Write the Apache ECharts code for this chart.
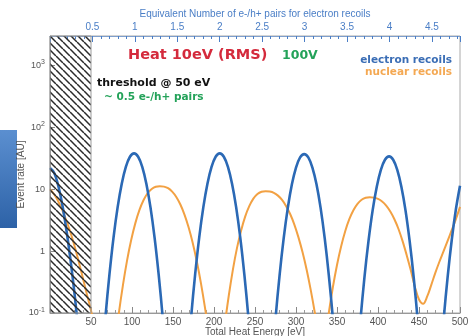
<!DOCTYPE html>
<html><head><meta charset="utf-8">
<script src="https://cdn.jsdelivr.net/npm/echarts@6/dist/echarts.min.js"></script>
<style>html,body{margin:0;padding:0;background:#fff}#c{width:470px;height:336px}</style>
</head><body><div id="c"></div>
<script>
// ---- data: [energy eV, event rate AU] ----
const electronPeak0 = [[0,22],[5,18.5],[10,11.5],[15,5.6],[20,2.2],[25,0.72],[30,0.2],[35,0.045],[40,0.008]];
const electronPeak1 = [[62.5,0.013],[67.5,0.083],[72.5,0.42],[77.5,1.67],[82.5,5.14],[87.5,12.3],[92.5,23.0],[97.5,33.5],[102.5,38],[107.5,33.5],[112.5,23.0],[117.5,12.3],[122.5,5.14],[127.5,1.67],[132.5,0.42],[137.5,0.083],[142.5,0.013]];
const electronPeak2 = [[167,0.013],[172,0.083],[177,0.42],[182,1.67],[187,5.14],[192,12.3],[197,23.0],[202,33.5],[207,38],[212,33.5],[217,23.0],[222,12.3],[227,5.14],[232,1.67],[237,0.42],[242,0.083],[247,0.013]];
const electronPeak3 = [[270,0.012],[275,0.081],[280,0.41],[285,1.62],[290,5.0],[295,12.0],[300,22.4],[305,32.7],[310,37],[315,32.7],[320,22.4],[325,12.0],[330,5.0],[335,1.62],[340,0.41],[345,0.081],[350,0.012]];
const electronPeak4 = [[373.5,0.011],[378.5,0.074],[383.5,0.38],[388.5,1.49],[393.5,4.6],[398.5,11.0],[403.5,20.6],[408.5,30.0],[413.5,34],[418.5,30.0],[423.5,20.6],[428.5,11.0],[433.5,4.6],[438.5,1.49],[443.5,0.38],[448.5,0.074],[453.5,0.011]];
const electronPeak5 = [[475,0.012],[480,0.077],[485,0.39],[490,1.54],[495,4.74],[500,11.4]];

const nuclearPeak0 = [[0,10],[5,8.3],[10,6.4],[15,4.6],[20,3.1],[25,2.0],[30,1.2],[35,0.68],[40,0.37],[45,0.2],[50,0.11],[55,0.05],[60,0.02]];
const nuclearPeak1 = [[74,0.0074],[79,0.029],[84,0.1],[89,0.285],[94,0.708],[99,1.51],[104,2.81],[109,4.59],[114,6.63],[119,8.62],[124,10.1],[129,11.0],[134,11.2],[139,11.04],[144,10.4],[149,9.16],[154,7.52],[159,5.68],[164,3.89],[169,2.43],[174,1.37],[179,0.686],[184,0.307],[189,0.122],[194,0.043],[199,0.013]];
const nuclearPeak2 = [[208,0.0173],[213,0.0625],[218,0.19],[223,0.499],[228,1.12],[233,2.14],[238,3.61],[243,5.33],[248,7.05],[253,8.36],[258,9.11],[263,9.3],[268,9.19],[273,8.74],[278,7.89],[283,6.73],[288,5.33],[293,3.95],[298,2.69],[303,1.67],[308,0.96],[313,0.50],[318,0.234],[323,0.1],[328,0.038],[333,0.013]];
const nuclearPeak3 = [[330,0.0093],[335,0.033],[340,0.1],[345,0.263],[350,0.597],[355,1.19],[360,2.10],[365,3.28],[370,4.59],[375,5.82],[380,6.76],[385,7.27],[390,7.4],[395,7.32],[400,6.98],[405,6.34],[410,5.44],[415,4.37],[420,3.28],[425,2.28],[430,1.45],[435,0.86],[440,0.49],[445,0.264],[450,0.165],[455,0.141],[460,0.185],[465,0.285],[470,0.45],[475,0.68],[480,1.0],[485,1.48],[490,2.2],[495,3.3],[500,5.2]];

const electronSegments = [electronPeak0, electronPeak1, electronPeak2, electronPeak3, electronPeak4, electronPeak5];
const nuclearSegments = [nuclearPeak0, nuclearPeak1, nuclearPeak2, nuclearPeak3];

const energyTicks = [50,100,150,200,250,300,350,400,450,500];
const pairTicks = [0.5,1,1.5,2,2.5,3,3.5,4,4.5];
const rateTicks = [0.1,1,10,100,1000];
const thresholdEnergy = 50;
const eVPerPair = 103.5;
const energyMax = 500;
const rateMin = 0.1, rateMax = 3000;

// ---- styling ----
const BLUE = '#2b69b5', ORANGE = '#f2a143';
const AXIS_BLUE = '#4a7ec6';

function hatchPattern(){
  const s = 7, c = document.createElement('canvas');
  c.width = s; c.height = s;
  const g = c.getContext('2d');
  g.strokeStyle = '#2a2a2a'; g.lineWidth = 1.5;
  for (let k = -1; k <= 1; k++) { g.beginPath(); g.moveTo(k*s, 0); g.lineTo(k*s + s, s); g.stroke(); }
  return {image: c, repeat: 'repeat'};
}

const chart = echarts.init(document.getElementById('c'), null, {renderer: 'canvas'});

const series = [];
electronSegments.forEach(seg => series.push({
  name: 'electron recoils', type: 'line', data: seg, showSymbol: false, smooth: 0.35,
  clip: true, z: 3, lineStyle: {color: BLUE, width: 2.6}, itemStyle: {color: BLUE}
}));
nuclearSegments.forEach(seg => series.push({
  name: 'nuclear recoils', type: 'line', data: seg, showSymbol: false, smooth: 0.35,
  clip: true, z: 2, lineStyle: {color: ORANGE, width: 2}, itemStyle: {color: ORANGE}
}));
series.push({
  name: 'threshold', type: 'line', data: [], z: 10, silent: true,
  markArea: {silent: true, z: 10,
    itemStyle: {color: hatchPattern(), borderColor: '#999', borderWidth: 1},
    data: [[{xAxis: 0}, {xAxis: thresholdEnergy}]]}
});

const isPow10 = v => Math.abs(Math.log10(v) - Math.round(Math.log10(v))) < 1e-6;

chart.setOption({
  animation: false,
  backgroundColor: '#fff',
  grid: {left: 50, right: 10, top: 36, bottom: 23, show: true, borderColor: '#aaa', borderWidth: 1,
         containLabel: false, outerBoundsMode: 'none'},
  legend: {
    right: 8, top: 50, orient: 'vertical', align: 'right', icon: 'none', itemWidth: 0, itemHeight: 0,
    itemGap: 1, selectedMode: false,
    textStyle: {fontFamily: 'DejaVu Sans', fontWeight: 'bold', fontSize: 10.5},
    data: [{name: 'electron recoils', textStyle: {color: '#3a6db5'}},
           {name: 'nuclear recoils', textStyle: {color: '#f4a852'}}]
  },
  xAxis: [{
    type: 'value', position: 'bottom', min: 0, max: energyMax, interval: 50,
    name: 'Total Heat Energy [eV]', nameLocation: 'middle', nameGap: 14, nameMoveOverlap: false,
    nameTextStyle: {fontFamily: 'Liberation Sans', fontSize: 10, color: '#555'},
    axisLine: {lineStyle: {color: '#999'}},
    axisTick: {inside: true, length: 6, lineStyle: {color: '#888'}},
    minorTick: {show: true, splitNumber: 5, length: 3, lineStyle: {color: '#999'}},
    splitLine: {show: false},
    axisLabel: {fontFamily: 'Liberation Sans', fontSize: 10, color: '#555', margin: 4,
      formatter: v => energyTicks.includes(v) ? String(v) : ''}
  }, {
    type: 'value', position: 'top', min: 0, max: energyMax / eVPerPair, interval: 0.5,
    name: 'Equivalent Number of e-/h+ pairs for electron recoils', nameLocation: 'middle', nameGap: 17, nameMoveOverlap: false,
    nameTextStyle: {fontFamily: 'Liberation Sans', fontSize: 10, color: AXIS_BLUE},
    axisLine: {lineStyle: {color: '#7f9fcc'}},
    axisTick: {inside: true, length: 6, lineStyle: {color: AXIS_BLUE}},
    minorTick: {show: true, splitNumber: 5, length: 3, lineStyle: {color: AXIS_BLUE}},
    splitLine: {show: false},
    axisLabel: {fontFamily: 'Liberation Sans', fontSize: 10, color: AXIS_BLUE, margin: 4, showMaxLabel: false,
      formatter: v => pairTicks.some(t => Math.abs(t - v) < 1e-6) ? String(v) : ''}
  }],
  yAxis: {
    type: 'log', logBase: 10, min: rateMin, max: rateMax,
    name: 'Event rate [AU]', nameLocation: 'middle', nameGap: 24, nameMoveOverlap: false,
    nameTextStyle: {fontFamily: 'Liberation Sans', fontSize: 10, color: '#555'},
    axisLine: {show: true, lineStyle: {color: '#999'}},
    axisTick: {show: true, inside: true, length: 5, lineStyle: {color: '#888'}},
    splitLine: {show: false},
    axisLabel: {fontFamily: 'Liberation Sans', fontSize: 9, color: '#555', margin: 5, showMaxLabel: false,
      formatter: v => {
        if (!isPow10(v) || !rateTicks.some(t => Math.abs(t - v) / t < 1e-6)) return '';
        const e = Math.round(Math.log10(v));
        if (e === 0) return '1';
        if (e === 1) return '10';
        return '10{s|' + (e < 0 ? '-' : '') + Math.abs(e) + '}';
      },
      rich: {s: {fontSize: 7, verticalAlign: 'top', padding: [0,0,6,0], color: '#555', fontFamily: 'Liberation Sans'}}
    }
  },
  graphic: [
    {type: 'rect', left: 0, top: 130, shape: {width: 17, height: 98}, silent: true,
     style: {fill: new echarts.graphic.LinearGradient(0, 0, 0, 1, [{offset: 0, color: '#5b8fd0'}, {offset: 1, color: '#2d62a7'}])}},
    {type: 'text', left: 128, top: 48, silent: true,
     style: {text: 'Heat 10eV (RMS)', font: 'bold 14.5px "DejaVu Sans"', fill: '#d42a3c'}},
    {type: 'text', left: 282, top: 49, silent: true,
     style: {text: '100V', font: 'bold 12.5px "DejaVu Sans"', fill: '#23a259'}},
    {type: 'text', left: 97, top: 78, silent: true,
     style: {text: 'threshold @ 50 eV', font: 'bold 11px "DejaVu Sans"', fill: '#111'}},
    {type: 'text', left: 104, top: 92, silent: true,
     style: {text: '~ 0.5 e-/h+ pairs', font: 'bold 10.5px "DejaVu Sans"', fill: '#23a259'}}
  ],
  series: series
});
</script></body></html>
